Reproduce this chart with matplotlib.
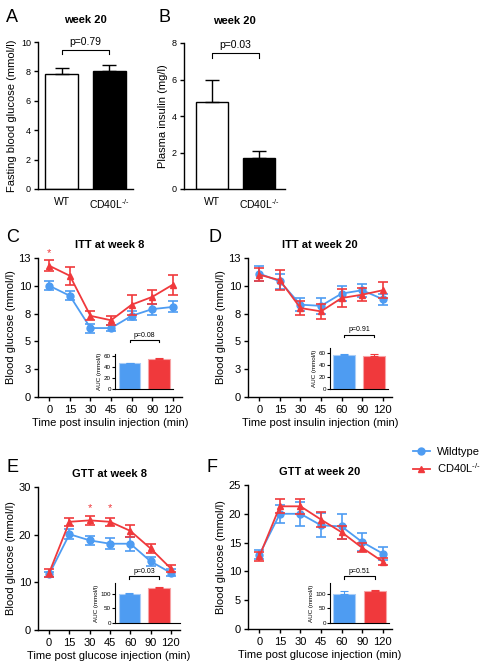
import numpy as np
import matplotlib.pyplot as plt
from matplotlib.lines import Line2D

plt.rcParams['font.family'] = ['Liberation Sans', 'DejaVu Sans']
plt.rcParams['mathtext.fontset'] = 'custom'
plt.rcParams['mathtext.rm'] = 'Liberation Sans'

W, H = 484, 666
blue = '#4e9cf2'
red = '#f0393c'
ko_label = 'CD40L$^{\\text{-/-}}$'

# bar panels A/B
groups = ['WT', ko_label]
fbg = [7.8, 8.0]
fbg_err = [0.4, 0.45]
insulin = [4.75, 1.7]
insulin_err = [1.2, 0.4]

times = ['0', '15', '30', '45', '60', '90', '120']

itt8_wt = [10.0, 9.1, 6.2, 6.2, 7.3, 7.9, 8.1]
itt8_wt_err = [0.4, 0.4, 0.4, 0.3, 0.4, 0.5, 0.5]
itt8_ko = [11.8, 10.9, 7.3, 6.9, 8.3, 9.0, 10.1]
itt8_ko_err = [0.5, 0.8, 0.4, 0.4, 0.9, 0.6, 0.9]

itt20_wt = [11.1, 10.4, 8.3, 8.2, 9.3, 9.6, 8.8]
itt20_wt_err = [0.7, 0.7, 0.6, 0.7, 0.7, 0.6, 0.5]
itt20_ko = [11.0, 10.5, 8.0, 7.7, 8.9, 9.2, 9.6]
itt20_ko_err = [0.6, 0.9, 0.6, 0.7, 0.8, 0.6, 0.7]

gtt8_wt = [11.7, 20.1, 18.8, 18.1, 18.1, 14.4, 12.0]
gtt8_wt_err = [0.5, 1.1, 0.9, 1.2, 1.5, 1.0, 0.7]
gtt8_ko = [12.0, 22.7, 23.0, 22.7, 20.8, 17.1, 12.9]
gtt8_ko_err = [0.8, 0.8, 1.0, 0.9, 1.2, 1.0, 0.8]

gtt20_wt = [12.9, 20.0, 20.0, 18.0, 17.8, 15.1, 13.1]
gtt20_wt_err = [0.8, 1.6, 2.1, 2.1, 2.2, 1.6, 1.1]
gtt20_ko = [12.6, 21.3, 21.3, 19.0, 16.8, 14.1, 11.7]
gtt20_ko_err = [0.8, 1.2, 1.3, 1.3, 1.1, 0.8, 0.6]

# AUC insets
auc_itt8 = [46, 54]
auc_itt8_err = [1, 2.5]
auc_itt20 = [56, 55]
auc_itt20_err = [2.5, 3]
auc_gtt8 = [100, 120]
auc_gtt8_err = [3, 3]
auc_gtt20 = [100, 108]
auc_gtt20_err = [10, 4]

fig = plt.figure(figsize=(W / 100, H / 100), dpi=100)


def px_axes(left, top, right, bottom):
    return fig.add_axes([left / W, 1 - bottom / H, (right - left) / W, (bottom - top) / H])


def style(ax, fs=8):
    for s in ['top', 'right']:
        ax.spines[s].set_visible(False)
    for s in ['left', 'bottom']:
        ax.spines[s].set_linewidth(1.0)
    ax.tick_params(labelsize=fs, width=1.0, length=3, pad=2)


def bracket(ax, x0, x1, y, leg, text, fs):
    ax.plot([x0, x0, x1, x1], [y - leg, y, y, y - leg], color='black', lw=0.8, clip_on=False)
    ax.text((x0 + x1) / 2, y + leg * 0.6, text, ha='center', va='bottom', fontsize=fs)


def bar_panel(ax, vals, errs, ylim, yticks, ylabel, ptext, by, leg, xlim):
    ax.bar([0, 1], vals, width=0.69, color=['white', 'black'], edgecolor='black', linewidth=1.0)
    ax.errorbar([0, 1], vals, yerr=[[0, 0], errs], fmt='none', ecolor='black',
                elinewidth=1.0, capsize=5, capthick=1.0)
    ax.set_xlim(*xlim)
    ax.set_ylim(*ylim)
    ax.set_yticks(yticks)
    ax.set_xticks([0, 1])
    ax.set_xticklabels(groups)
    style(ax, 6.5)
    ax.tick_params(axis='x', length=0, pad=6, labelsize=7.5)
    ax.set_ylabel(ylabel, fontsize=8, labelpad=3)
    ax.set_title('week 20', fontsize=8, fontweight='bold', pad=14)
    bracket(ax, 0, 1, by, leg, ptext, 7.5)


axA = px_axes(38, 42, 133, 189)
bar_panel(axA, fbg, fbg_err, (0, 10), range(0, 11, 2), 'Fasting blood glucose (mmol/l)',
          'p=0.79', 9.45, 0.3, (-0.5, 1.5))
axB = px_axes(184, 43, 285, 189)
bar_panel(axB, insulin, insulin_err, (0, 8), range(0, 9, 2), 'Plasma insulin (mg/l)',
          'p=0.03', 7.45, 0.25, (-0.6, 1.55))


def line_panel(box, wt, wt_err, ko, ko_err, ylim, yticks, yticklabels, title, xlabel):
    ax = px_axes(*box)
    x = np.arange(len(times))
    ax.errorbar(x, wt, yerr=wt_err, color=blue, marker='o', markersize=5, lw=1.3,
                elinewidth=1.2, capsize=3.5, capthick=1.2, zorder=3)
    ax.errorbar(x, ko, yerr=ko_err, color=red, marker='^', markersize=5, lw=1.3,
                elinewidth=1.2, capsize=3.5, capthick=1.2, zorder=4)
    ax.set_xlim(-0.55, 6.45)
    ax.set_ylim(*ylim)
    ax.set_yticks(yticks)
    ax.set_yticklabels(yticklabels)
    ax.set_xticks(x)
    ax.set_xticklabels(times)
    style(ax, 8)
    ax.tick_params(axis='x', pad=3)
    ax.set_ylabel('Blood glucose (mmol/l)', fontsize=8, labelpad=2)
    ax.set_xlabel(xlabel, fontsize=8, labelpad=2)
    ax.set_title(title, fontsize=8, fontweight='bold', pad=7)
    return ax


def inset(box, vals, errs, ylim, yticks, ptext, by, leg, xlim):
    ax = px_axes(*box)
    ax.bar([0, 1], vals, width=0.72, color=[blue, red], edgecolor=['#a9cdf7', '#f7a3a5'],
           linewidth=0.8)
    for i, c in enumerate([blue, red]):
        ax.errorbar([i], [vals[i]], yerr=[[0], [errs[i]]], fmt='none', ecolor=c,
                    elinewidth=0.8, capsize=3, capthick=0.8)
    ax.set_xlim(*xlim)
    ax.set_ylim(*ylim)
    ax.set_yticks(yticks)
    ax.set_xticks([])
    style(ax, 4.5)
    for s in ['left', 'bottom']:
        ax.spines[s].set_linewidth(0.8)
    ax.tick_params(length=2, width=0.8, pad=1)
    ax.set_ylabel('AUC (mmol/l)', fontsize=4.5, labelpad=1)
    ax.patch.set_alpha(0)
    bracket(ax, 0, 1, by, leg, ptext, 5)
    return ax


itt_ticks = [0, 2.5, 5, 7.5, 10, 12.5]
itt_labels = ['0', '3', '5', '8', '10', '13']

axC = line_panel((38, 258, 182, 397), itt8_wt, itt8_wt_err, itt8_ko, itt8_ko_err,
                 (0, 12.5), itt_ticks, itt_labels, 'ITT at week 8',
                 'Time post insulin injection (min)')
axC.text(0, 12.9, '*', color=red, ha='center', va='center', fontsize=8)
inset((115, 354, 173, 389), auc_itt8, auc_itt8_err, (0, 63), [0, 20, 40, 60],
      'p=0.08', 88, 4, (-0.49, 1.47))

axD = line_panel((248, 258, 392, 397), itt20_wt, itt20_wt_err, itt20_ko, itt20_ko_err,
                 (0, 12.5), itt_ticks, itt_labels, 'ITT at week 20',
                 'Time post insulin injection (min)')
inset((330, 348, 388, 389), auc_itt20, auc_itt20_err, (0, 68), [0, 20, 40, 60],
      'p=0.91', 90, 4, (-0.47, 1.47))

axE = line_panel((38, 487, 180, 630), gtt8_wt, gtt8_wt_err, gtt8_ko, gtt8_ko_err,
                 (0, 30), [0, 10, 20, 30], ['0', '10', '20', '30'], 'GTT at week 8',
                 'Time post glucose injection (min)')
for i in [2, 3]:
    axE.text(i, 25.6, '*', color=red, ha='center', va='center', fontsize=8)
inset((115, 583, 180, 623), auc_gtt8, auc_gtt8_err, (0, 137), [0, 50, 100],
      'p=0.03', 160, 8, (-0.49, 1.71))

axF = line_panel((248, 485, 392, 629), gtt20_wt, gtt20_wt_err, gtt20_ko, gtt20_ko_err,
                 (0, 25), [0, 5, 10, 15, 20, 25], ['0', '5', '10', '15', '20', '25'],
                 'GTT at week 20', 'Time post glucose injection (min)')
inset((330, 583, 389, 623), auc_gtt20, auc_gtt20_err, (0, 137), [0, 50, 100],
      'p=0.51', 160, 8, (-0.47, 1.47))

handles = [Line2D([], [], color=blue, marker='o', markersize=5, lw=1.3),
           Line2D([], [], color=red, marker='^', markersize=5, lw=1.3)]
fig.legend(handles, ['Wildtype', ko_label], loc='upper left',
           frameon=False, bbox_to_anchor=(413 / W, 1 - 447 / H), fontsize=8,
           handlelength=1.5, handletextpad=0.7, labelspacing=0.35, borderaxespad=0,
           borderpad=0)

for letter, (lx, ly) in zip('ABCDEF', [(6, 22), (158, 22), (6, 242), (208, 242),
                                        (6, 472), (206, 472)]):
    fig.text(lx / W, 1 - ly / H, letter, fontsize=13, va='baseline')

fig.savefig('out.png', dpi=100)
